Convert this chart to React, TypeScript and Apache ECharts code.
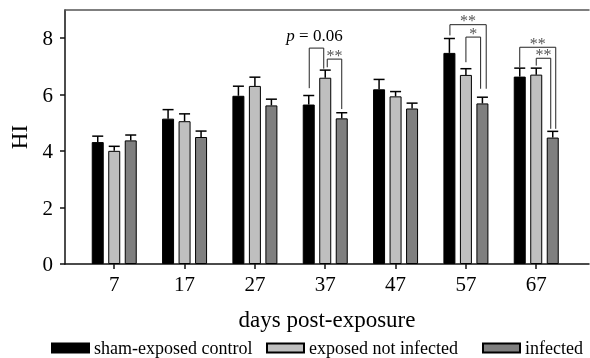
import React, { useEffect, useRef } from "react";
import * as echarts from "echarts";

const days = [7, 17, 27, 37, 47, 57, 67];
const seriesNames = ["sham-exposed control", "exposed not infected", "infected"];
const shamMean = [4.32, 5.15, 5.96, 5.65, 6.19, 7.48, 6.64];
const shamSem = [0.21, 0.32, 0.34, 0.32, 0.35, 0.51, 0.3];
const exposedMean = [4.01, 5.06, 6.31, 6.6, 5.94, 6.7, 6.71];
const exposedSem = [0.16, 0.26, 0.31, 0.27, 0.17, 0.22, 0.23];
const infectedMean = [4.38, 4.5, 5.62, 5.16, 5.51, 5.69, 4.48];
const infectedSem = [0.19, 0.21, 0.22, 0.2, 0.19, 0.22, 0.22];
const yTicks = [0, 2, 4, 6, 8];

// significance brackets: day, bars compared (series index), heights in HI units
const brackets = [
  { day: 37, from: 0, to: 1, top: 7.65, leftEnd: 6.23, rightEnd: 6.92, label: "p" },
  { day: 37, from: 1, to: 2, top: 7.26, leftEnd: 6.97, rightEnd: 5.49, label: "**" },
  { day: 57, from: 0, to: 2, top: 8.48, leftEnd: 8.1, rightEnd: 6.21, label: "**" },
  { day: 57, from: 1, to: 2, top: 8.04, leftEnd: 7.15, rightEnd: 6.21, label: "*" },
  { day: 67, from: 0, to: 2, top: 7.68, leftEnd: 6.97, rightEnd: 4.79, label: "**" },
  { day: 67, from: 1, to: 2, top: 7.29, leftEnd: 7.03, rightEnd: 4.79, label: "**" },
];
const bracketNudge = [
  [0.5, -1.5],
  [2, 0],
  [0.5, 3.8],
  [0, -1.8],
  [0, 3],
  [0, -2],
];

const FONT = "'Liberation Serif', 'Times New Roman', serif";
const colors = ["#000000", "#bfbfbf", "#7f7f7f"];
const BAR_W = 12;
const BAR_STEP = 16.5;
const legendLefts = [51, 266, 482];

export default function App() {
  const ref = useRef<HTMLDivElement>(null);
  useEffect(() => {
    if (!ref.current) return;
    const chart = echarts.init(ref.current, undefined, { renderer: "svg" });
    const means = [shamMean, exposedMean, infectedMean];
    const sems = [shamSem, exposedSem, infectedSem];

    const barSeries = means.map((m, si) => ({
      name: seriesNames[si],
      type: "bar",
      xAxisIndex: 0,
      barWidth: BAR_W,
      barGap: "37.5%",
      data: days.map((d, i) => [d, m[i]]),
      itemStyle: { color: colors[si], borderColor: "#000", borderWidth: 1 },
      z: 2,
    }));

    const errSeries = means.map((m, si) => ({
      type: "custom",
      xAxisIndex: 0,
      z: 3,
      silent: true,
      colorBy: "series",
      itemStyle: { color: "#000" },
      data: days.map((d, i) => [d, m[i], m[i] + sems[si][i]]),
      renderItem: (params: any, api: any) => {
        const off = (si - 1) * BAR_STEP;
        const p0 = api.coord([api.value(0), api.value(1)]);
        const p1 = api.coord([api.value(0), api.value(2)]);
        const x = p0[0] + off;
        return {
          type: "group",
          children: [
            { type: "line", shape: { x1: x, y1: p0[1], x2: x, y2: p1[1] }, style: { stroke: "#000", lineWidth: 1.5 } },
            { type: "line", shape: { x1: x - 5.5, y1: p1[1], x2: x + 5.5, y2: p1[1] }, style: { stroke: "#000", lineWidth: 1.5 } },
          ],
        };
      },
    }));

    const bracketSeries = {
      type: "custom",
      xAxisIndex: 0,
      z: 4,
      silent: true,
      colorBy: "series",
      itemStyle: { color: "#444" },
      data: brackets.map((b) => [b.day, b.top]),
      renderItem: (params: any, api: any) => {
        const b = brackets[params.dataIndex];
        const nd = bracketNudge[params.dataIndex];
        const cx = api.coord([b.day, 0])[0];
        const xl = cx + (b.from - 1) * BAR_STEP + nd[0];
        const xr = cx + (b.to - 1) * BAR_STEP + nd[1];
        const yt = api.coord([b.day, b.top])[1];
        const yl = api.coord([b.day, b.leftEnd])[1];
        const yr = api.coord([b.day, b.rightEnd])[1];
        const isP = b.label === "p";
        const textEl: any = isP
          ? {
              type: "text",
              x: (xl + xr) / 2 - 2,
              y: yt - 13,
              style: {
                text: "{i|p} = 0.06",
                rich: { i: { fontStyle: "italic", fontFamily: FONT, fontSize: 17, fill: "#000", lineHeight: 14 } },
                fontFamily: FONT,
                fontSize: 17,
                lineHeight: 14,
                fill: "#000",
                align: "center",
                verticalAlign: "middle",
              },
            }
          : {
              type: "text",
              x: (xl + xr) / 2,
              y: yt - 4,
              style: {
                text: b.label,
                fontFamily: FONT,
                fontSize: 16,
                lineHeight: 10,
                fill: "#555",
                align: "center",
                verticalAlign: "middle",
              },
            };
        return {
          type: "group",
          children: [
            {
              type: "polyline",
              shape: { points: [[xl, yl], [xl, yt], [xr, yt], [xr, yr]] },
              style: { stroke: "#222", lineWidth: 1, fill: "none" },
            },
            textEl,
          ],
        };
      },
    };

    chart.setOption({
      animation: false,
      textStyle: { fontFamily: FONT },
      grid: { left: 65, right: 1, top: 10, bottom: 94 },
      legend: seriesNames.map((n, i) => ({
        data: [n],
        left: legendLefts[i],
        top: 339,
        padding: 0,
        icon: "rect",
        itemWidth: 37,
        itemHeight: 9,
        textStyle: { fontFamily: FONT, fontSize: 18, color: "#000" },
      })),
      xAxis: [
        {
          type: "value",
          min: 0,
          max: 74.5,
          position: "bottom",
          name: "days post-exposure",
          nameLocation: "middle",
          nameGap: 44,
          nameTextStyle: { fontFamily: FONT, fontSize: 23, color: "#000" },
          axisLine: { show: true, lineStyle: { color: "#111", width: 1.5 } },
          axisTick: { show: true, length: 5, customValues: days, lineStyle: { color: "#111", width: 1.5 } },
          axisLabel: { customValues: days, fontFamily: FONT, fontSize: 21, color: "#000", margin: 9 },
          splitLine: { show: false },
        },
        {
          type: "value",
          min: 0,
          max: 74.5,
          position: "top",
          axisLine: { show: true, lineStyle: { color: "#555", width: 1.5 } },
          axisTick: { show: false },
          axisLabel: { show: false },
          splitLine: { show: false },
        },
      ],
      yAxis: {
        type: "value",
        min: 0,
        max: 9,
        name: "HI",
        nameLocation: "middle",
        nameGap: 34,
        nameRotate: 90,
        nameTextStyle: { fontFamily: FONT, fontSize: 23, color: "#000" },
        axisLine: { show: true, lineStyle: { color: "#111", width: 1.5 } },
        axisTick: { show: true, length: 5, customValues: yTicks, lineStyle: { color: "#111", width: 1.5 } },
        axisLabel: { customValues: yTicks, fontFamily: FONT, fontSize: 21, color: "#000", margin: 12 },
        splitLine: { show: false },
      },
      series: [...barSeries, ...errSeries, bracketSeries],
    });
    return () => chart.dispose();
  }, []);
  return (
    <div
      ref={ref}
      style={{ position: "absolute", left: 0, top: 0, width: 590, height: 358, willChange: "transform" }}
    />
  );
}
